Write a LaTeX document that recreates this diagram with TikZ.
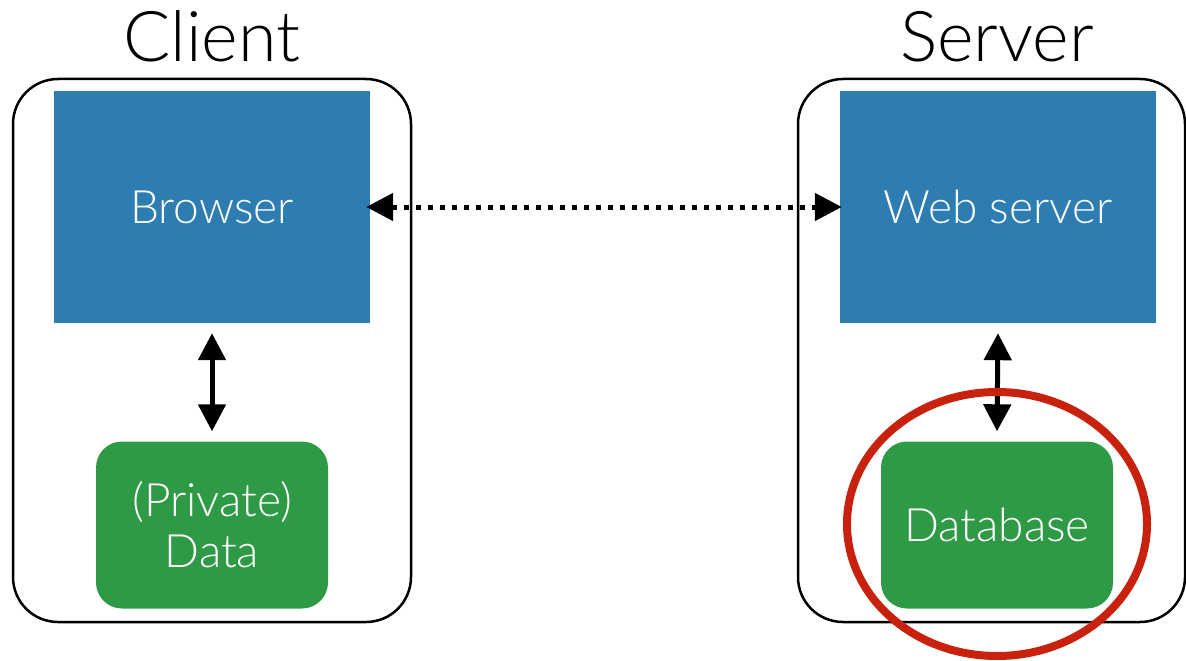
\documentclass[tikz,border=0pt]{standalone}
\usepackage{fontspec}
\setmainfont{Lato Light}
\usetikzlibrary{arrows.meta,shapes.geometric}
\definecolor{boxblue}{HTML}{2E7DB2}
\definecolor{boxgreen}{HTML}{2E9A45}
\definecolor{ringred}{HTML}{C8220E}
\begin{document}
\begin{tikzpicture}[x=1pt,y=-1pt,
  container/.style={draw=black,line width=2.5pt,rounded corners=45pt},
  bluebox/.style={fill=boxblue,text=white,minimum width=316pt,minimum height=232pt,inner sep=0pt,font=\fontsize{46}{51}\selectfont},
  greenbox/.style={fill=boxgreen,text=white,rounded corners=26pt,minimum width=232pt,minimum height=167pt,inner sep=0pt,align=center,font=\fontsize{46}{51}\selectfont},
  title/.style={font=\fontsize{70}{80}\selectfont,inner sep=0pt},
  link/.style={line width=5pt,{Triangle[length=27pt,width=27pt]}-{Triangle[length=27pt,width=27pt]},shorten <=0pt,shorten >=0pt},
  dotlink/.style={link,dash pattern=on 5pt off 7pt}
]
\useasboundingbox (0,0) rectangle (1186,661);
\begin{scope}
\clip (0,0) rectangle (1186,661);
\draw[container] (13,79) rectangle (411,622);
\draw[container] (798,79) rectangle (1185,622);
\node[title,anchor=base] (ct) at (212,62) {Client};
\node[title,anchor=base] (st) at (997,62) {Server};
\node[bluebox] (browser) at (212,207) {Browser};
\node[bluebox] (web) at (998,207) {Web server};
\node[greenbox] (data) at (212,525) {(Private)\\Data};
\node[greenbox] (db) at (997,525) {Database};
\path (browser.south) ++(0,10) coordinate (a1) (data.north) ++(0,-10) coordinate (a2);
\draw[link] (a1) -- (a2);
\path (web.south) ++(0,10) coordinate (b1) (db.north) ++(0,-10) coordinate (b2);
\draw[link] (b1) -- (b2);
\draw[dotlink] ([xshift=-4pt]browser.east) -- ([xshift=2pt]web.west);
\node[draw=ringred,line width=8pt,ellipse,minimum width=300pt,minimum height=264pt] (ring) at (997,524) {};
\end{scope}
\end{tikzpicture}
\end{document}
